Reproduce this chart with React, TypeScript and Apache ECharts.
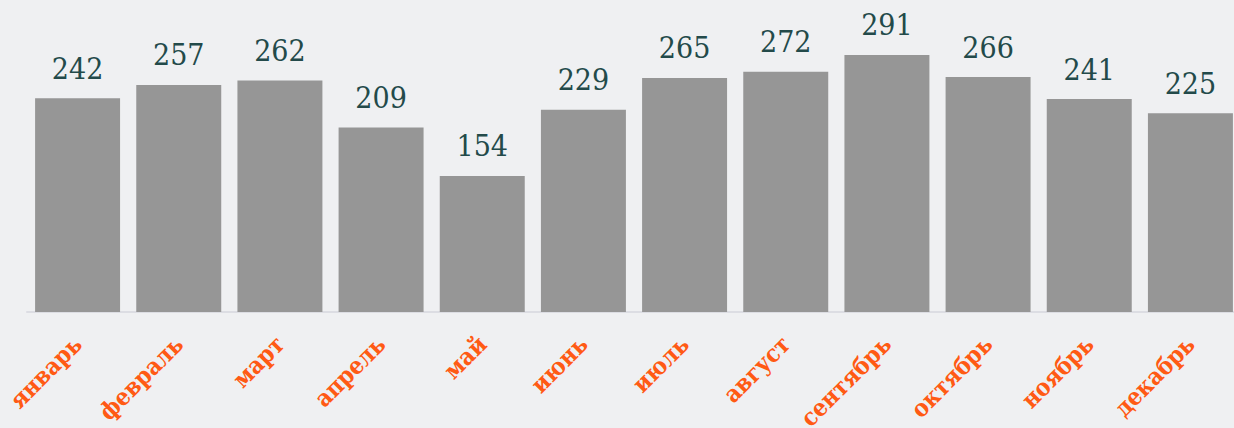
import React, { useEffect, useRef } from "react";
import * as echarts from "echarts";

const months = ["январь", "февраль", "март", "апрель", "май", "июнь", "июль", "август", "сентябрь", "октябрь", "ноябрь", "декабрь"];
const values = [242, 257, 262, 209, 154, 229, 265, 272, 291, 266, 241, 225];

export default function App() {
  const ref = useRef<HTMLDivElement>(null);
  useEffect(() => {
    document.body.style.margin = "0";
    const chart = echarts.init(ref.current!, null, { renderer: "svg" });
    chart.setOption({
      animation: false,
      backgroundColor: "#eff0f2",
      grid: { left: 27, top: 47, width: 1214, height: 265, containLabel: false, outerBoundsMode: "none" },
      xAxis: {
        type: "category",
        data: months,
        axisLine: { show: true, lineStyle: { color: "#dcdde3", width: 2 } },
        axisTick: { show: false },
        axisLabel: {
          interval: 0,
          rotate: 45,
          margin: 28,
          color: "#ff5a14",
          fontWeight: "bold",
          fontSize: 24,
          fontFamily: "'DejaVu Serif Condensed', 'DejaVu Serif', serif",
        },
      },
      yAxis: {
        type: "value",
        min: 0,
        max: 300,
        show: false,
        splitLine: { show: false },
      },
      series: [
        {
          type: "bar",
          data: values,
          barCategoryGap: "16%",
          itemStyle: { color: "#969696" },
          label: {
            show: true,
            position: "top",
            distance: 15,
            color: "#234a4a",
            fontSize: 30,
            fontFamily: "'DejaVu Serif Condensed', 'DejaVu Serif', serif",
          },
        },
      ],
    });
    return () => chart.dispose();
  }, []);
  return <div ref={ref} style={{ width: 1234, height: 428 }} />;
}
